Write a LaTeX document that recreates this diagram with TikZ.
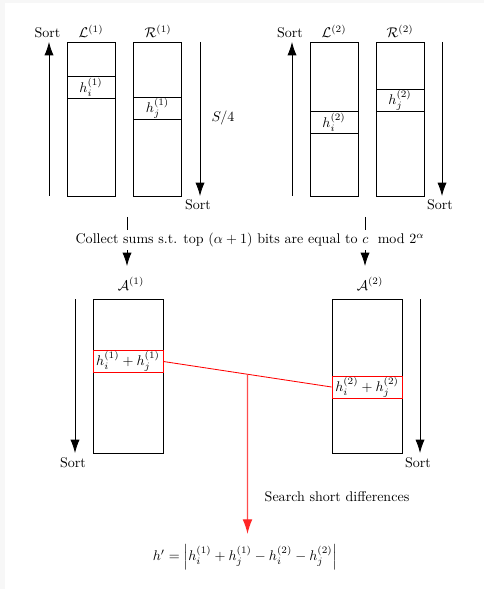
\documentclass[tikz,border=0pt]{standalone}
\usepackage{amsmath}
\usetikzlibrary{arrows.meta,calc}
\def\pxunit{0.712pt}
\begin{document}
\begin{tikzpicture}[x=0.712pt,y=-0.712pt,
  colbox/.style={draw, line width=0.55pt, inner sep=0pt, minimum height=154*\pxunit},
  rowbox/.style={draw, line width=0.55pt, inner sep=0pt, minimum height=22*\pxunit},
  redrow/.style={draw=red, line width=0.6pt, inner sep=0pt, minimum height=22*\pxunit, minimum width=70*\pxunit},
  sortarrow/.style={line width=0.55pt, -{Latex[length=9.5pt,width=6.5pt]}},
  lbl/.style={inner sep=0pt, anchor=base},
  redline/.style={draw=red, line width=0.6pt},
  redarrow/.style={draw=red!70, line width=0.9pt, -{Latex[length=10.5pt,width=7pt,color=red!85]}}
]
\fill[black!3] (0,0) rectangle (484,589);
\fill[white] (5,3) rectangle (484,589);
\useasboundingbox (0,0) rectangle (484,589);

% ---------- top left group ----------
\node[colbox, minimum width=48*\pxunit] (L1) at (91,119) {};
\node[colbox, minimum width=48*\pxunit] (R1) at (157.5,119) {};
\node[rowbox, minimum width=48*\pxunit] (L1r) at (91,87) {$h_i^{(1)}$};
\node[rowbox, minimum width=48*\pxunit] (R1r) at (157.5,108) {$h_j^{(1)}$};
\node[lbl] (L1t) at (91,37.5) {$\mathcal{L}^{(1)}$};
\node[lbl] (R1t) at (158,37.5) {$\mathcal{R}^{(1)}$};
\coordinate (u1s) at (49,196);
\coordinate (u1e) at (49,42);
\draw[sortarrow] (u1s) -- (u1e);
\node[lbl] (u1l) at (47.5,37.5) {Sort};
\coordinate (d1s) at (200,42);
\coordinate (d1e) at (200,196);
\draw[sortarrow] (d1s) -- (d1e);
\node[lbl] (d1l) at (198,210) {Sort};
\node[lbl] (s4) at (223,122) {$S/4$};

% ---------- top right group ----------
\node[colbox, minimum width=48*\pxunit] (L2) at (334,119) {};
\node[colbox, minimum width=48*\pxunit] (R2) at (400,119) {};
\node[rowbox, minimum width=48*\pxunit] (L2r) at (334,122) {$h_i^{(2)}$};
\node[rowbox, minimum width=48*\pxunit] (R2r) at (400,100) {$h_j^{(2)}$};
\node[lbl] (L2t) at (334,37.5) {$\mathcal{L}^{(2)}$};
\node[lbl] (R2t) at (400,37.5) {$\mathcal{R}^{(2)}$};
\coordinate (u2s) at (292,196);
\coordinate (u2e) at (292,42);
\draw[sortarrow] (u2s) -- (u2e);
\node[lbl] (u2l) at (290,37.5) {Sort};
\coordinate (d2s) at (442,42);
\coordinate (d2e) at (442,196);
\draw[sortarrow] (d2s) -- (d2e);
\node[lbl] (d2l) at (440,210) {Sort};

% ---------- collect ----------
\node[inner xsep=0pt, inner ysep=2pt] (collect) at (250,240) {Collect sums s.t. top $(\alpha+1)$ bits are equal to $c \mod 2^{\alpha}$};
\coordinate (c1s) at (127,217);
\coordinate (c1e) at (127,266);
\coordinate (c2s) at (365,217);
\coordinate (c2e) at (365,266);
\draw[line width=0.55pt] (c1s) -- (c1s |- collect.north);
\draw[sortarrow] (c1s |- collect.south) -- (c1e);
\draw[line width=0.55pt] (c2s) -- (c2s |- collect.north);
\draw[sortarrow] (c2s |- collect.south) -- (c2e);

% ---------- bottom ----------
\node[colbox, minimum width=70*\pxunit] (A1) at (128,376) {};
\node[colbox, minimum width=70*\pxunit] (A2) at (367,376) {};
\node[lbl] (A1t) at (131,290) {$\mathcal{A}^{(1)}$};
\node[lbl] (A2t) at (370,290) {$\mathcal{A}^{(2)}$};
\coordinate (a1s) at (75,299);
\coordinate (a1e) at (75,453);
\draw[sortarrow] (a1s) -- (a1e);
\node[lbl] (a1l) at (73,467) {Sort};
\coordinate (a2s) at (420,299);
\coordinate (a2e) at (420,453);
\draw[sortarrow] (a2s) -- (a2e);
\node[lbl] (a2l) at (418,467) {Sort};

\node[lbl] (search) at (337,501) {Search short differences};
\node (hp) at (245,557) {$h' = \left| h_i^{(1)} + h_j^{(1)} - h_i^{(2)} - h_j^{(2)} \right|$};

\node[redrow] (A1r) at (128,361.5) {$h_i^{(1)}+h_j^{(1)}$};
\node[redrow] (A2r) at (367,387) {$h_i^{(2)}+h_j^{(2)}$};
\draw[redline] (A1r.east) -- (A2r.west);
\coordinate (jn) at ($(A1r.east)!0.5!(A2r.west)$);
\coordinate (tipend) at (247.5,534);
\draw[redarrow] (jn) -- (tipend);
\end{tikzpicture}
\end{document}
